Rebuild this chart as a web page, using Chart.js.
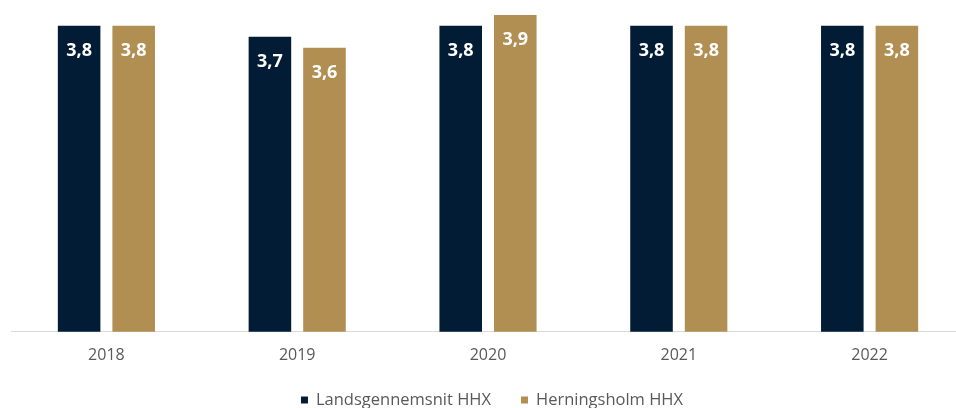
<!DOCTYPE html>
<html>
<head>
<meta charset="utf-8">
<script src="https://cdn.jsdelivr.net/npm/chart.js@4.4.0/dist/chart.umd.min.js"></script>
<style>
  html, body { margin: 0; padding: 0; background: #fff; overflow: hidden; }
  .canvas { position: relative; width: 966px; height: 408px; }
</style>
</head>
<body>
<div class="canvas"><canvas id="chart"></canvas></div>
<script>
const years = ['2018', '2019', '2020', '2021', '2022'];
const landsgennemsnit = [3.8, 3.7, 3.8, 3.8, 3.8];
const herningsholm = [3.8, 3.6, 3.9, 3.8, 3.8];
const seriesNames = ['Landsgennemsnit HHX', 'Herningsholm HHX'];

const navy = '#021c36';
const gold = '#b18e51';

// draws the value inside the top of each bar, with a comma like the original
const barLabels = {
  id: 'barLabels',
  afterDatasetsDraw(chart) {
    const ctx = chart.ctx;
    ctx.save();
    ctx.font = 'bold 18px "Open Sans"';
    ctx.fillStyle = '#ffffff';
    ctx.textAlign = 'center';
    ctx.textBaseline = 'middle';
    chart.data.datasets.forEach((ds, i) => {
      chart.getDatasetMeta(i).data.forEach((bar, j) => {
        let txt = ds.data[j].toFixed(1).replace('.', ',');
        ctx.fillText(txt, bar.x, bar.y + 25);
      });
    });
    ctx.restore();
  }
};

// small legend at the bottom, the built in one won't space items like excel does
const bottomLegend = {
  id: 'bottomLegend',
  afterDraw(chart) {
    const ctx = chart.ctx;
    const box = 7, gap = 8, itemGap = 30, y = 400;
    ctx.save();
    ctx.font = '16.5px "Open Sans"';
    ctx.textBaseline = 'middle';
    let items = chart.data.datasets.map(ds => ({
      text: ds.label, color: ds.backgroundColor, w: ctx.measureText(ds.label).width
    }));
    let total = items.reduce((s, a) => s + box + gap + a.w, 0) + itemGap * (items.length - 1);
    let x = (chart.chartArea.left + chart.chartArea.right) / 2 - total / 2 + 4;
    items.forEach(a => {
      ctx.fillStyle = a.color;
      ctx.fillRect(x, y - box / 2, box, box);
      ctx.fillStyle = '#595959';
      ctx.fillText(a.text, x + box + gap, y);
      x += box + gap + a.w + itemGap;
    });
    ctx.restore();
  }
};

const ctx = document.getElementById('chart').getContext('2d');
let mc = new Chart(ctx, {
  type: 'bar',
  data: {
    labels: years,
    datasets: [{
      label: seriesNames[0],
      data: landsgennemsnit,
      backgroundColor: navy
    }, {
      label: seriesNames[1],
      data: herningsholm,
      backgroundColor: gold
    }]
  },
  options: {
    responsive: true,
    maintainAspectRatio: false,
    animation: false,
    categoryPercentage: 0.572,
    barPercentage: 0.78,
    layout: { padding: { left: 11, right: 1, top: 4, bottom: 29 } },
    plugins: {
      tooltip: { enabled: false },
      legend: { display: false }
    },
    scales: {
      x: {
        grid: { display: false, drawTicks: false },
        border: { color: '#d9d9d9', width: 1 },
        ticks: {
          color: '#595959',
          padding: 14,
          font: { family: '"Open Sans"', size: 16 }
        }
      },
      y: {
        display: false,
        min: 1,
        max: 4
      }
    }
  },
  plugins: [barLabels, bottomLegend]
});
</script>
</body>
</html>
